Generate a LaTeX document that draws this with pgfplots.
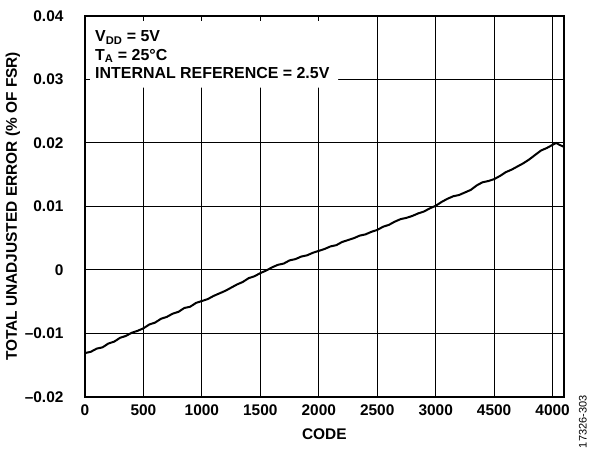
\documentclass[border=0pt]{standalone}
\usepackage{pgfplots}
\pgfplotsset{compat=1.18}
\usepackage{pgfplotstable}
\usepackage{fontspec}
\setmainfont{Liberation Sans}

\pgfplotsset{
  layers/boxed/.define layer set={axis background,axis grid,box layer,axis ticks,axis lines,axis tick labels,pre main,main,axis descriptions,axis foreground}{
    grid style={/pgfplots/on layer=axis grid},
    tick style={/pgfplots/on layer=axis ticks},
    axis line style={/pgfplots/on layer=axis lines},
    label style={/pgfplots/on layer=axis descriptions},
    ticklabel style={/pgfplots/on layer=axis tick labels},
  },
}

% total unadjusted error vs code
\pgfplotstableread{
code tue
0 -0.0131
50 -0.0129
100 -0.0124
150 -0.0122
200 -0.0116
250 -0.0113
300 -0.0107
350 -0.0104
400 -0.0099
450 -0.0096
500 -0.0092
550 -0.0086
600 -0.0083
650 -0.0077
700 -0.0074
750 -0.0069
800 -0.0066
850 -0.0060
900 -0.0058
950 -0.0052
1000 -0.0049
1050 -0.0046
1100 -0.0041
1150 -0.0037
1200 -0.0033
1250 -0.0028
1300 -0.0023
1350 -0.0019
1400 -0.0013
1450 -0.0010
1500 -0.0005
1550 -0.0001
1600 0.0004
1650 0.0008
1700 0.0010
1750 0.0015
1800 0.0017
1850 0.0021
1900 0.0023
1950 0.0027
2000 0.0030
2050 0.0033
2100 0.0037
2150 0.0039
2200 0.0044
2250 0.0047
2300 0.0050
2350 0.0054
2400 0.0056
2450 0.0060
2500 0.0063
2550 0.0068
2600 0.0071
2650 0.0076
2700 0.0080
2750 0.0082
2800 0.0085
2850 0.0089
2900 0.0092
2950 0.0097
3000 0.0101
3050 0.0107
3100 0.0112
3150 0.0116
3200 0.0118
3250 0.0122
3300 0.0126
3350 0.0133
3400 0.0138
3450 0.0140
3500 0.0143
3550 0.0148
3600 0.0154
3650 0.0158
3700 0.0163
3750 0.0168
3800 0.0174
3850 0.0181
3900 0.0188
3950 0.0192
4000 0.0197
4030 0.0200
4060 0.0197
4095 0.0194
}\tuedata

\begin{document}
\begin{tikzpicture}
\begin{axis}[
  set layers=boxed,
  at={(0,0)}, anchor=south west,
  scale only axis, width=479bp, height=381bp,
  xmin=0, xmax=4096, ymin=-0.02, ymax=0.04,
  scaled y ticks=false, scaled x ticks=false,
  xtick={0,500,...,4000},
  xticklabels={0,500,1000,1500,2000,2500,3000,4500,4000},
  ytick={-0.02,-0.01,0,0.01,0.02,0.03,0.04},
  yticklabels={–0.02,–0.01,0,0.01,0.02,0.03,0.04},
  grid=major,
  major grid style={black, line width=1bp},
  tick align=inside, major tick length=5bp,
  tick style={black, line width=1bp},
  axis line style={line width=1.5bp},
  ticklabel style={font=\bfseries\fontsize{15.5}{18}\selectfont},
  xticklabel style={yshift=-4bp},
  yticklabel style={xshift=-18bp},
  label style={font=\bfseries\fontsize{15.5}{18}\selectfont},
  xlabel={CODE},
  xlabel shift=7bp,
  ylabel={TOTAL UNADJUSTED ERROR (\% OF FSR)},
  ylabel shift=-2bp,
]
\addplot[on layer=box layer, fill=white, draw=none, forget plot]
  coordinates {(0,0.0287) (2165,0.0287) (2165,0.04) (0,0.04) (0,0.0287)};
\addplot[black, line width=2bp] table[x=code, y=tue] {\tuedata};
\node[anchor=north west, align=left, inner sep=0,
      font=\bfseries\fontsize{16}{18.5}\selectfont]
  at (rel axis cs:0.021,0.962)
  {V\textsubscript{DD} = 5V\\T\textsubscript{A} = 25°C\\INTERNAL REFERENCE = 2.5V};
\end{axis}
\node[rotate=90, font=\fontsize{11}{13}\selectfont] at (498bp,-25bp) {17326-303};
\path (-85bp,-57bp) rectangle (505bp,397bp);
\end{tikzpicture}
\end{document}
